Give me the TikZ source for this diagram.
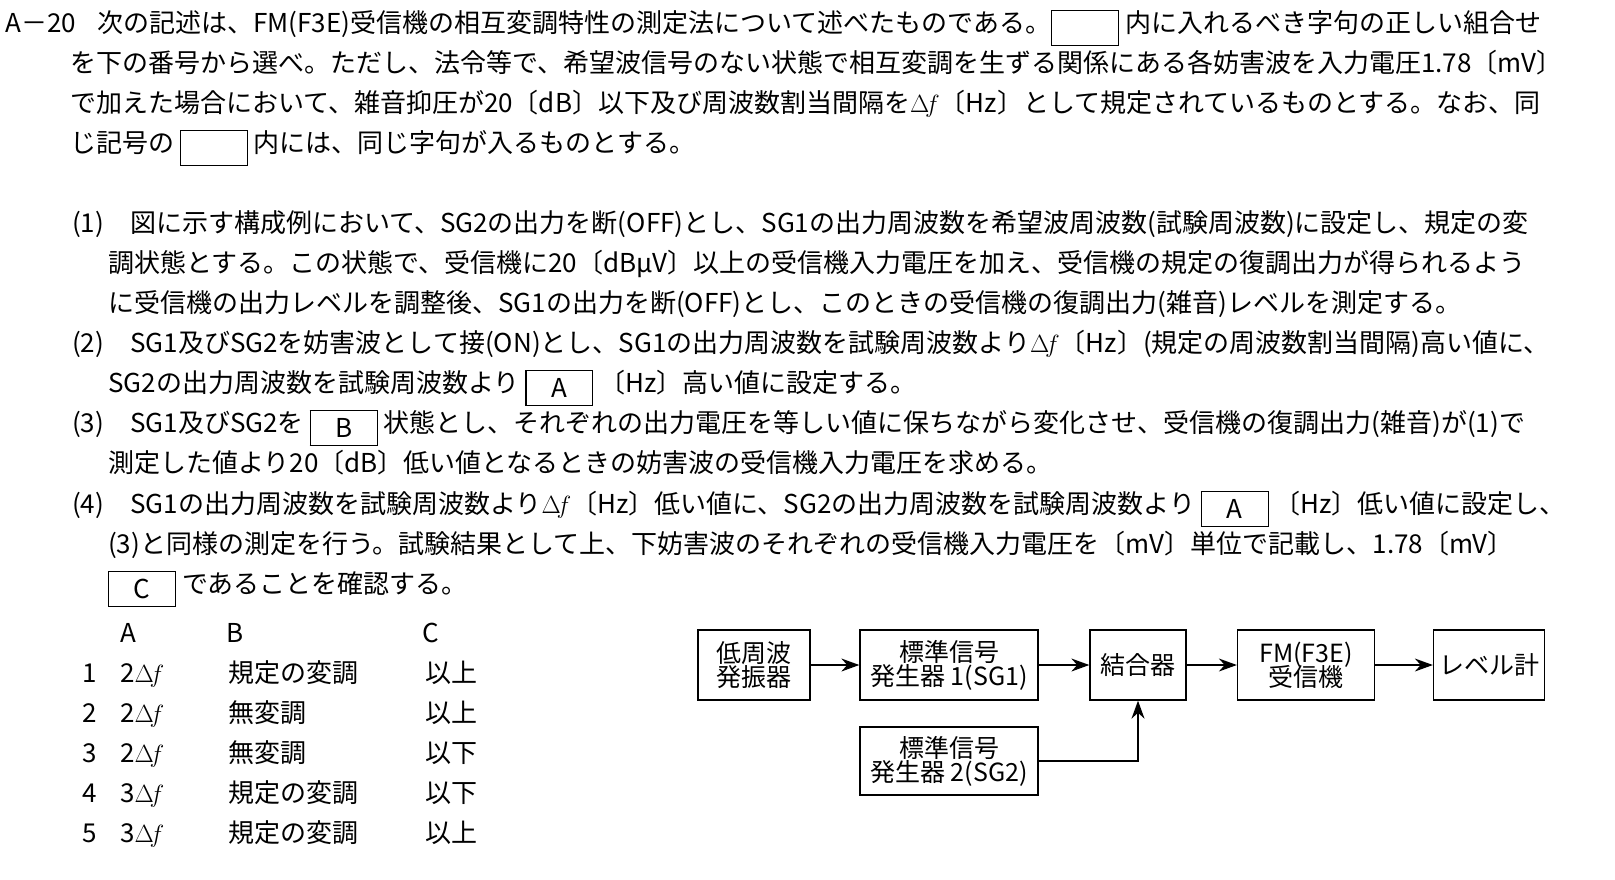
\documentclass[tikz,border=0pt]{standalone}
\usepackage{fontspec}
\usetikzlibrary{arrows.meta}
\setmainfont{Noto Sans CJK JP}
\newcommand\bxx[2]{\setlength\fboxrule{1.2pt}\setlength\fboxsep{0pt}\raisebox{-0.2em}{\framebox[#1]{\rule[-0.3em]{0pt}{1.3em}#2}}}
\newcommand\df{$\Delta\!f$}
\begin{document}
\begin{tikzpicture}[x=1pt,y=-1pt,
 ln/.style={anchor=base west,inner sep=0pt,font=\fontsize{26}{30}\selectfont},
 blk/.style={draw,line width=1.3pt,minimum height=70pt,align=center,font=\fontsize{25}{30}\selectfont,inner sep=2pt},
 arr/.style={line width=1.5pt,-{Stealth[length=18pt,width=13pt]}}]
\useasboundingbox (0,0) rectangle (1615,879);
\node[ln] (t0) at (5,32) {A－20};
\node[ln] (t1) at (97,32) {次の記述は、FM(F3E)受信機の相互変調特性の測定法について述べたものである。\bxx{68pt}{}\ 内に入れるべき字句の正しい組合せ};
\node[ln] (t2) at (70,72) {を下の番号から選べ。ただし、法令等で、希望波信号のない状態で相互変調を生ずる関係にある各妨害波を入力電圧1.78〔mV〕};
\node[ln] (t3) at (70,112) {で加えた場合において、雑音抑圧が20〔dB〕以下及び周波数割当間隔を\df〔Hz〕として規定されているものとする。なお、同};
\node[ln] (t4) at (70,152) {じ記号の\ \bxx{68pt}{}\ 内には、同じ字句が入るものとする。};
\node[ln] (p1) at (72,232) {(1)\quad 図に示す構成例において、SG2の出力を断(OFF)とし、SG1の出力周波数を希望波周波数(試験周波数)に設定し、規定の変};
\node[ln] (p1b) at (108,272) {調状態とする。この状態で、受信機に20〔dBμV〕以上の受信機入力電圧を加え、受信機の規定の復調出力が得られるよう};
\node[ln] (p1c) at (108,312) {に受信機の出力レベルを調整後、SG1の出力を断(OFF)とし、このときの受信機の復調出力(雑音)レベルを測定する。};
\node[ln] (p2) at (72,352) {(2)\quad SG1及びSG2を妨害波として接(ON)とし、SG1の出力周波数を試験周波数より\df〔Hz〕(規定の周波数割当間隔)高い値に、};
\node[ln] (p2b) at (108,392) {SG2の出力周波数を試験周波数より\ \bxx{68pt}{A}\ 〔Hz〕高い値に設定する。};
\node[ln] (p3) at (72,432) {(3)\quad SG1及びSG2を\ \bxx{68pt}{B}\ 状態とし、それぞれの出力電圧を等しい値に保ちながら変化させ、受信機の復調出力(雑音)が(1)で};
\node[ln] (p3b) at (108,472) {測定した値より20〔dB〕低い値となるときの妨害波の受信機入力電圧を求める。};
\node[ln] (p4) at (72,513) {(4)\quad SG1の出力周波数を試験周波数より\df〔Hz〕低い値に、SG2の出力周波数を試験周波数より\ \bxx{68pt}{A}\ 〔Hz〕低い値に設定し、};
\node[ln] (p4b) at (108,553) {(3)と同様の測定を行う。試験結果として上、下妨害波のそれぞれの受信機入力電圧を〔mV〕単位で記載し、1.78〔mV〕};
\node[ln] (p4c) at (108,593) {\bxx{68pt}{C}\ であることを確認する。};
% table
\node[ln] (hA) at (120,642) {A};
\node[ln] (hB) at (226,642) {B};
\node[ln] (hC) at (422,642) {C};
\foreach \n/\a/\b/\c [count=\i] in {1/2/規定の変調/以上,2/2/無変調/以上,3/2/無変調/以下,4/3/規定の変調/以下,5/3/規定の変調/以上}{
 \node[ln] (n\i) at (82,642+40*\i) {\n};
 \node[ln] (a\i) at (120,642+40*\i) {\a\df};
 \node[ln] (b\i) at (228,642+40*\i) {\b};
 \node[ln] (c\i) at (425,642+40*\i) {\c};
}
% diagram
\node[blk,minimum width=112pt] (osc) at (754,665) {低周波\\[-6pt]発振器};
\node[blk,minimum width=178pt] (sg1) at (949,665) {標準信号\\[-6pt]発生器 1(SG1)};
\node[blk,minimum width=96pt] (cpl) at (1138,665) {結合器};
\node[blk,minimum width=137pt] (rx) at (1306,665) {FM(F3E)\\[-6pt]受信機};
\node[blk,minimum width=111pt] (lvl) at (1489,665) {レベル計};
\node[blk,minimum width=178pt,minimum height=68pt] (sg2) at (949,761) {標準信号\\[-6pt]発生器 2(SG2)};
\draw[arr] (osc) -- (sg1);
\draw[arr] (sg1) -- (cpl);
\draw[arr] (cpl) -- (rx);
\draw[arr] (rx) -- (lvl);
\draw[arr] (sg2.east) -| (cpl.south);
\end{tikzpicture}
\end{document}
